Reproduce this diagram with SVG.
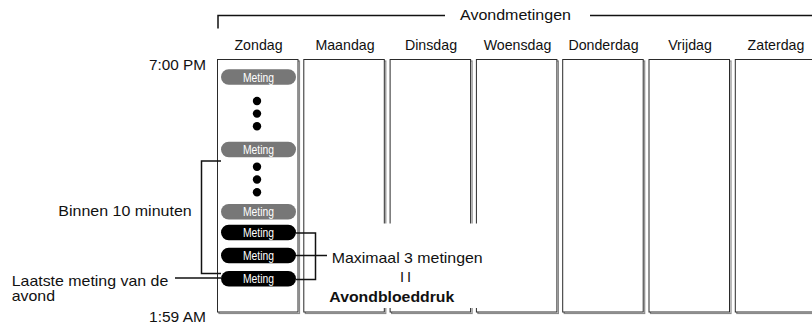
<svg xmlns="http://www.w3.org/2000/svg" width="812" height="324" viewBox="0 0 812 324">
<style>
text{font-family:"Liberation Sans",Arial,sans-serif;fill:#111}
.day{font-size:14.2px;text-anchor:middle}
.lbl{font-size:14.6px}
.pt{font-size:12px;fill:#fff;text-anchor:middle}
.box{fill:#fff;stroke:#2a2a2a;stroke-width:1}
.sh{fill:none;stroke:#8a8a8a;stroke-width:1.2}
.gp{fill:#777}
.bp{fill:#000}
.ln{fill:none;stroke:#111;stroke-width:1.5}
.dot{fill:#000}
</style>
<g id="header">
<path class="ln" d="M218 28.5V15.5H445M590 15.5H812"/>
<text class="lbl" x="460" y="20" textLength="111" lengthAdjust="spacingAndGlyphs">Avondmetingen</text>
</g>
<g id="times">
<text class="lbl" x="206" y="69.5" text-anchor="end" textLength="57" lengthAdjust="spacingAndGlyphs">7:00 PM</text>
<text class="lbl" x="206" y="321.5" text-anchor="end" textLength="57" lengthAdjust="spacingAndGlyphs">1:59 AM</text>
</g>
<g id="day-zondag">
<rect class="sh" x="219" y="61" width="80.5" height="252.5"/>
<rect class="box" x="217.5" y="59.5" width="80.5" height="252.5"/>
<text class="day" x="258.5" y="50">Zondag</text>
</g>
<g id="day-maandag">
<rect class="sh" x="305.3" y="61" width="80.5" height="252.5"/>
<rect class="box" x="303.8" y="59.5" width="80.5" height="252.5"/>
<text class="day" x="345" y="50">Maandag</text>
</g>
<g id="day-dinsdag">
<rect class="sh" x="391.6" y="61" width="80.5" height="252.5"/>
<rect class="box" x="390.1" y="59.5" width="80.5" height="252.5"/>
<text class="day" x="431" y="50">Dinsdag</text>
</g>
<g id="day-woensdag">
<rect class="sh" x="477.9" y="61" width="80.5" height="252.5"/>
<rect class="box" x="476.4" y="59.5" width="80.5" height="252.5"/>
<text class="day" x="517.5" y="50">Woensdag</text>
</g>
<g id="day-donderdag">
<rect class="sh" x="564.2" y="61" width="80.5" height="252.5"/>
<rect class="box" x="562.7" y="59.5" width="80.5" height="252.5"/>
<text class="day" x="603.5" y="50">Donderdag</text>
</g>
<g id="day-vrijdag">
<rect class="sh" x="650.5" y="61" width="80.5" height="252.5"/>
<rect class="box" x="649" y="59.5" width="80.5" height="252.5"/>
<text class="day" x="690" y="50">Vrijdag</text>
</g>
<g id="day-zaterdag">
<rect class="sh" x="736.8" y="61" width="80.5" height="252.5"/>
<rect class="box" x="735.3" y="59.5" width="80.5" height="252.5"/>
<text class="day" x="776" y="50">Zaterdag</text>
</g>
<g id="metingen">
<rect class="gp" x="221" y="69.3" width="75" height="15.5" rx="7.75"/>
<text class="pt" x="258.5" y="81.5" textLength="31" lengthAdjust="spacingAndGlyphs">Meting</text>
<circle class="dot" cx="257" cy="101" r="4.2"/>
<circle class="dot" cx="257" cy="113.6" r="4.2"/>
<circle class="dot" cx="257" cy="126.2" r="4.2"/>
<rect class="gp" x="221" y="141.7" width="75" height="15.5" rx="7.75"/>
<text class="pt" x="258.5" y="153.9" textLength="31" lengthAdjust="spacingAndGlyphs">Meting</text>
<circle class="dot" cx="257" cy="166.7" r="4.2"/>
<circle class="dot" cx="257" cy="179.5" r="4.2"/>
<circle class="dot" cx="257" cy="192.3" r="4.2"/>
<rect class="gp" x="221" y="204" width="75" height="15.5" rx="7.75"/>
<text class="pt" x="258.5" y="216.2" textLength="31" lengthAdjust="spacingAndGlyphs">Meting</text>
<rect class="bp" x="221" y="224.8" width="75" height="15.5" rx="7.75"/>
<text class="pt" x="258.5" y="237" textLength="31" lengthAdjust="spacingAndGlyphs">Meting</text>
<rect class="bp" x="221" y="247.7" width="75" height="15.5" rx="7.75"/>
<text class="pt" x="258.5" y="259.9" textLength="31" lengthAdjust="spacingAndGlyphs">Meting</text>
<rect class="bp" x="221" y="271" width="75" height="15.5" rx="7.75"/>
<text class="pt" x="258.5" y="283.2" textLength="31" lengthAdjust="spacingAndGlyphs">Meting</text>
</g>
<rect id="label-bg" x="306.5" y="223.5" width="176" height="84.5" fill="#fff"/>
<g id="connectors">
<path class="ln" d="M221 161H201.5V273.5H221"/>
<path class="ln" d="M175 278H221"/>
<path class="ln" d="M296 233H315.5V279.5H296M296 255.5H327"/>
</g>
<g id="labels">
<text class="lbl" x="58.3" y="215.7" textLength="133.4" lengthAdjust="spacingAndGlyphs">Binnen 10 minuten</text>
<text class="lbl" x="11.7" y="285.7" textLength="156.6" lengthAdjust="spacingAndGlyphs">Laatste meting van de</text>
<text class="lbl" x="11.7" y="300.7" textLength="43.3" lengthAdjust="spacingAndGlyphs">avond</text>
<text class="lbl" x="331.7" y="263.3" textLength="151" lengthAdjust="spacingAndGlyphs">Maximaal 3 metingen</text>
<text class="lbl" x="407" y="281.7" text-anchor="middle" letter-spacing="3" font-size="16">II</text>
<text class="lbl" x="329.3" y="301.7" font-weight="bold" textLength="125" lengthAdjust="spacingAndGlyphs">Avondbloeddruk</text>
</g>
</svg>
